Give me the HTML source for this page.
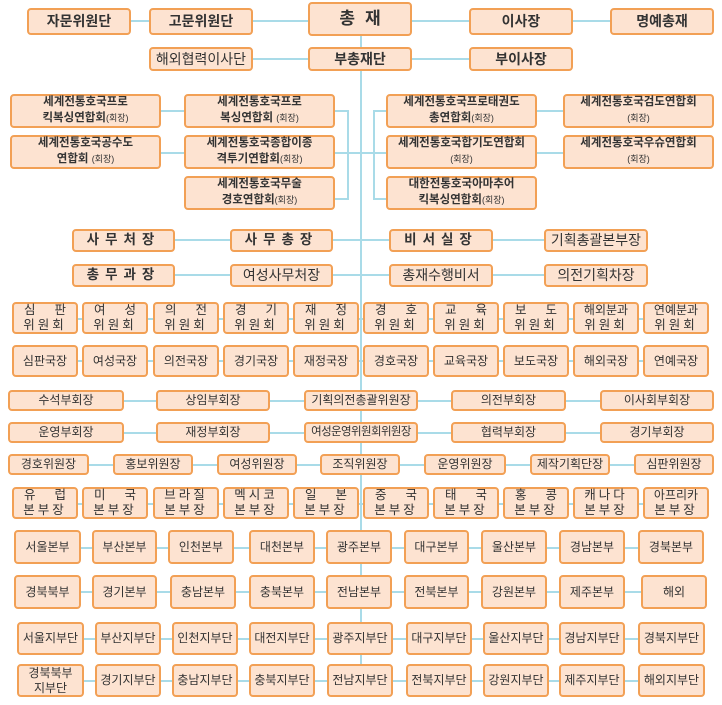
<!DOCTYPE html>
<html><head><meta charset="utf-8">
<style>
body{margin:0;background:#fff;}
#c{position:relative;width:722px;height:705px;overflow:hidden;font-family:"Liberation Sans","Noto Sans CJK KR",sans-serif;color:#333;}
.b{position:absolute;box-sizing:border-box;background:#fde3d1;border:2px solid #f2a055;border-radius:4px;display:flex;flex-direction:column;align-items:center;justify-content:center;text-align:center;line-height:1.2;font-size:12px;z-index:2;white-space:nowrap;}
.t{font-size:14px;font-weight:bold;}
.f{font-size:11.5px;font-weight:bold;line-height:1.35;}
.f small{font-size:9px;font-weight:normal;}
.s{font-size:13.5px;font-weight:bold;letter-spacing:6px;}
.m{font-size:12px;}
.h{position:absolute;height:2px;background:#a9dbe8;z-index:1;}
.v{position:absolute;width:2px;background:#a9dbe8;z-index:1;}
.r{display:flex;justify-content:space-between;width:100%;box-sizing:border-box;padding:0 10px;font-size:12.5px;}
.w{letter-spacing:3px;font-size:12.5px;}
</style></head><body><div id="c">
<div class="v" style="left:360px;top:30px;height:650px"></div>
<div class="h" style="left:131px;top:20px;width:480px"></div>
<div class="h" style="left:253px;top:58px;width:320px"></div>
<div class="h" style="left:161px;top:110px;width:25px"></div>
<div class="h" style="left:161px;top:152px;width:25px"></div>
<div class="h" style="left:335px;top:110px;width:13px"></div>
<div class="h" style="left:335px;top:198px;width:13px"></div>
<div class="v" style="left:347px;top:110px;height:90px"></div>
<div class="h" style="left:335px;top:152px;width:26px"></div>
<div class="v" style="left:373px;top:110px;height:90px"></div>
<div class="h" style="left:361px;top:152px;width:26px"></div>
<div class="h" style="left:373px;top:110px;width:14px"></div>
<div class="h" style="left:373px;top:198px;width:14px"></div>
<div class="h" style="left:537px;top:110px;width:27px"></div>
<div class="h" style="left:537px;top:152px;width:27px"></div>
<div class="h" style="left:175px;top:239px;width:370px"></div>
<div class="h" style="left:175px;top:274px;width:370px"></div>
<div class="h" style="left:20px;top:318px;width:680px"></div>
<div class="h" style="left:20px;top:360px;width:680px"></div>
<div class="h" style="left:20px;top:400px;width:680px"></div>
<div class="h" style="left:20px;top:432px;width:680px"></div>
<div class="h" style="left:20px;top:464px;width:680px"></div>
<div class="h" style="left:20px;top:503px;width:680px"></div>
<div class="h" style="left:20px;top:547px;width:680px"></div>
<div class="h" style="left:20px;top:591px;width:680px"></div>
<div class="h" style="left:20px;top:638px;width:680px"></div>
<div class="h" style="left:20px;top:680px;width:680px"></div>

<div class="b t" style="left:27px;top:8px;width:104px;height:27px">자문위원단</div>
<div class="b t" style="left:149px;top:8px;width:104px;height:27px">고문위원단</div>
<div class="b" style="left:308px;top:2px;width:104px;height:34px;font-size:17px;font-weight:bold;letter-spacing:10px;padding-left:10px">총재</div>
<div class="b t" style="left:469px;top:8px;width:104px;height:27px">이사장</div>
<div class="b t" style="left:610px;top:8px;width:104px;height:27px">명예총재</div>
<div class="b t" style="left:149px;top:47px;width:104px;height:24px;font-weight:normal">해외협력이사단</div>
<div class="b t" style="left:308px;top:47px;width:104px;height:24px">부총재단</div>
<div class="b t" style="left:469px;top:47px;width:104px;height:24px">부이사장</div>

<div class="b f" style="left:10px;top:94px;width:151px;height:34px"><span>세계전통호국프로</span><span>킥복싱연합회<small>(회장)</small></span></div>
<div class="b f" style="left:10px;top:135px;width:151px;height:34px"><span>세계전통호국공수도</span><span>연합회 <small>(회장)</small></span></div>
<div class="b f" style="left:184px;top:94px;width:151px;height:34px"><span>세계전통호국프로</span><span>복싱연합회 <small>(회장)</small></span></div>
<div class="b f" style="left:184px;top:135px;width:151px;height:34px"><span>세계전통호국종합이종</span><span>격투기연합회<small>(회장)</small></span></div>
<div class="b f" style="left:184px;top:176px;width:151px;height:34px"><span>세계전통호국무술</span><span>경호연합회<small>(회장)</small></span></div>
<div class="b f" style="left:386px;top:94px;width:151px;height:34px"><span>세계전통호국프로태권도</span><span>총연합회<small>(회장)</small></span></div>
<div class="b f" style="left:386px;top:135px;width:151px;height:34px"><span>세계전통호국합기도연합회</span><span><small>(회장)</small></span></div>
<div class="b f" style="left:386px;top:176px;width:151px;height:34px"><span>대한전통호국아마추어</span><span>킥복싱연합회<small>(회장)</small></span></div>
<div class="b f" style="left:563px;top:94px;width:151px;height:34px"><span>세계전통호국검도연합회</span><span><small>(회장)</small></span></div>
<div class="b f" style="left:563px;top:135px;width:151px;height:34px"><span>세계전통호국우슈연합회</span><span><small>(회장)</small></span></div>

<div class="b s" style="left:72px;top:229px;width:103px;height:23px">사무처장</div>
<div class="b s" style="left:230px;top:229px;width:103px;height:23px">사무총장</div>
<div class="b s" style="left:389px;top:229px;width:104px;height:23px">비서실장</div>
<div class="b t" style="left:544px;top:229px;width:104px;height:23px;font-weight:normal">기획총괄본부장</div>
<div class="b s" style="left:72px;top:264px;width:103px;height:23px">총무과장</div>
<div class="b t" style="left:230px;top:264px;width:103px;height:23px;font-weight:normal">여성사무처장</div>
<div class="b t" style="left:389px;top:264px;width:104px;height:23px;font-weight:normal">총재수행비서</div>
<div class="b t" style="left:544px;top:264px;width:104px;height:23px;font-weight:normal">의전기획차장</div>

<div class="b" style="left:12px;top:302px;width:66px;height:32px"><div class="r"><span>심</span><span>판</span></div><div class="w">위원회</div></div>
<div class="b" style="left:82px;top:302px;width:66px;height:32px"><div class="r"><span>여</span><span>성</span></div><div class="w">위원회</div></div>
<div class="b" style="left:153px;top:302px;width:66px;height:32px"><div class="r"><span>의</span><span>전</span></div><div class="w">위원회</div></div>
<div class="b" style="left:223px;top:302px;width:66px;height:32px"><div class="r"><span>경</span><span>기</span></div><div class="w">위원회</div></div>
<div class="b" style="left:293px;top:302px;width:66px;height:32px"><div class="r"><span>재</span><span>정</span></div><div class="w">위원회</div></div>
<div class="b" style="left:363px;top:302px;width:66px;height:32px"><div class="r"><span>경</span><span>호</span></div><div class="w">위원회</div></div>
<div class="b" style="left:433px;top:302px;width:66px;height:32px"><div class="r"><span>교</span><span>육</span></div><div class="w">위원회</div></div>
<div class="b" style="left:503px;top:302px;width:66px;height:32px"><div class="r"><span>보</span><span>도</span></div><div class="w">위원회</div></div>
<div class="b" style="left:573px;top:302px;width:66px;height:32px"><div class="m">해외분과</div><div class="w">위원회</div></div>
<div class="b" style="left:643px;top:302px;width:66px;height:32px"><div class="m">연예분과</div><div class="w">위원회</div></div>

<div class="b m" style="left:12px;top:345px;width:66px;height:32px">심판국장</div>
<div class="b m" style="left:82px;top:345px;width:66px;height:32px">여성국장</div>
<div class="b m" style="left:153px;top:345px;width:66px;height:32px">의전국장</div>
<div class="b m" style="left:223px;top:345px;width:66px;height:32px">경기국장</div>
<div class="b m" style="left:293px;top:345px;width:66px;height:32px">재정국장</div>
<div class="b m" style="left:363px;top:345px;width:66px;height:32px">경호국장</div>
<div class="b m" style="left:433px;top:345px;width:66px;height:32px">교육국장</div>
<div class="b m" style="left:503px;top:345px;width:66px;height:32px">보도국장</div>
<div class="b m" style="left:573px;top:345px;width:66px;height:32px">해외국장</div>
<div class="b m" style="left:643px;top:345px;width:66px;height:32px">연예국장</div>

<div class="b m" style="left:8px;top:390px;width:116px;height:21px">수석부회장</div>
<div class="b m" style="left:156px;top:390px;width:114px;height:21px">상임부회장</div>
<div class="b m" style="left:304px;top:390px;width:114px;height:21px">기획의전총괄위원장</div>
<div class="b m" style="left:451px;top:390px;width:115px;height:21px">의전부회장</div>
<div class="b m" style="left:600px;top:390px;width:114px;height:21px">이사회부회장</div>
<div class="b m" style="left:8px;top:422px;width:116px;height:21px">운영부회장</div>
<div class="b m" style="left:156px;top:422px;width:114px;height:21px">재정부회장</div>
<div class="b m" style="left:304px;top:422px;width:114px;height:21px;font-size:11.5px;letter-spacing:-0.6px">여성운영위원회위원장</div>
<div class="b m" style="left:451px;top:422px;width:115px;height:21px">협력부회장</div>
<div class="b m" style="left:600px;top:422px;width:114px;height:21px">경기부회장</div>

<div class="b m" style="left:8px;top:454px;width:81px;height:21px">경호위원장</div>
<div class="b m" style="left:113px;top:454px;width:80px;height:21px">홍보위원장</div>
<div class="b m" style="left:217px;top:454px;width:80px;height:21px">여성위원장</div>
<div class="b m" style="left:320px;top:454px;width:80px;height:21px">조직위원장</div>
<div class="b m" style="left:424px;top:454px;width:82px;height:21px">운영위원장</div>
<div class="b m" style="left:530px;top:454px;width:80px;height:21px">제작기획단장</div>
<div class="b m" style="left:634px;top:454px;width:80px;height:21px">심판위원장</div>

<div class="b" style="left:12px;top:487px;width:66px;height:32px"><div class="r"><span>유</span><span>럽</span></div><div class="w">본부장</div></div>
<div class="b" style="left:82px;top:487px;width:66px;height:32px"><div class="r"><span>미</span><span>국</span></div><div class="w">본부장</div></div>
<div class="b" style="left:153px;top:487px;width:66px;height:32px"><div class="w">브라질</div><div class="w">본부장</div></div>
<div class="b" style="left:223px;top:487px;width:66px;height:32px"><div class="w">멕시코</div><div class="w">본부장</div></div>
<div class="b" style="left:293px;top:487px;width:66px;height:32px"><div class="r"><span>일</span><span>본</span></div><div class="w">본부장</div></div>
<div class="b" style="left:363px;top:487px;width:66px;height:32px"><div class="r"><span>중</span><span>국</span></div><div class="w">본부장</div></div>
<div class="b" style="left:433px;top:487px;width:66px;height:32px"><div class="r"><span>태</span><span>국</span></div><div class="w">본부장</div></div>
<div class="b" style="left:503px;top:487px;width:66px;height:32px"><div class="r"><span>홍</span><span>콩</span></div><div class="w">본부장</div></div>
<div class="b" style="left:573px;top:487px;width:66px;height:32px"><div class="w">캐나다</div><div class="w">본부장</div></div>
<div class="b" style="left:643px;top:487px;width:66px;height:32px"><div class="m">아프리카</div><div class="w">본부장</div></div>

<div class="b m" style="left:14px;top:530px;width:67px;height:34px">서울본부</div>
<div class="b m" style="left:92px;top:530px;width:65px;height:34px">부산본부</div>
<div class="b m" style="left:168px;top:530px;width:66px;height:34px">인천본부</div>
<div class="b m" style="left:249px;top:530px;width:66px;height:34px">대천본부</div>
<div class="b m" style="left:326px;top:530px;width:66px;height:34px">광주본부</div>
<div class="b m" style="left:404px;top:530px;width:65px;height:34px">대구본부</div>
<div class="b m" style="left:481px;top:530px;width:66px;height:34px">울산본부</div>
<div class="b m" style="left:559px;top:530px;width:66px;height:34px">경남본부</div>
<div class="b m" style="left:638px;top:530px;width:66px;height:34px">경북본부</div>

<div class="b m" style="left:14px;top:575px;width:67px;height:34px">경북북부</div>
<div class="b m" style="left:92px;top:575px;width:65px;height:34px">경기본부</div>
<div class="b m" style="left:170px;top:575px;width:66px;height:34px">충남본부</div>
<div class="b m" style="left:249px;top:575px;width:66px;height:34px">충북본부</div>
<div class="b m" style="left:326px;top:575px;width:66px;height:34px">전남본부</div>
<div class="b m" style="left:404px;top:575px;width:65px;height:34px">전북본부</div>
<div class="b m" style="left:481px;top:575px;width:66px;height:34px">강원본부</div>
<div class="b m" style="left:559px;top:575px;width:66px;height:34px">제주본부</div>
<div class="b m" style="left:641px;top:575px;width:66px;height:34px">해외</div>

<div class="b m" style="left:17px;top:622px;width:67px;height:33px">서울지부단</div>
<div class="b m" style="left:95px;top:622px;width:66px;height:33px">부산지부단</div>
<div class="b m" style="left:172px;top:622px;width:66px;height:33px">인천지부단</div>
<div class="b m" style="left:249px;top:622px;width:66px;height:33px">대전지부단</div>
<div class="b m" style="left:327px;top:622px;width:66px;height:33px">광주지부단</div>
<div class="b m" style="left:406px;top:622px;width:66px;height:33px">대구지부단</div>
<div class="b m" style="left:483px;top:622px;width:66px;height:33px">울산지부단</div>
<div class="b m" style="left:559px;top:622px;width:66px;height:33px">경남지부단</div>
<div class="b m" style="left:638px;top:622px;width:67px;height:33px">경북지부단</div>

<div class="b m" style="left:17px;top:664px;width:67px;height:33px"><span>경북북부</span><span>지부단</span></div>
<div class="b m" style="left:95px;top:664px;width:66px;height:33px">경기지부단</div>
<div class="b m" style="left:172px;top:664px;width:66px;height:33px">충남지부단</div>
<div class="b m" style="left:249px;top:664px;width:66px;height:33px">충북지부단</div>
<div class="b m" style="left:327px;top:664px;width:66px;height:33px">전남지부단</div>
<div class="b m" style="left:406px;top:664px;width:66px;height:33px">전북지부단</div>
<div class="b m" style="left:483px;top:664px;width:66px;height:33px">강원지부단</div>
<div class="b m" style="left:559px;top:664px;width:66px;height:33px">제주지부단</div>
<div class="b m" style="left:638px;top:664px;width:67px;height:33px">해외지부단</div>
</div></body></html>
